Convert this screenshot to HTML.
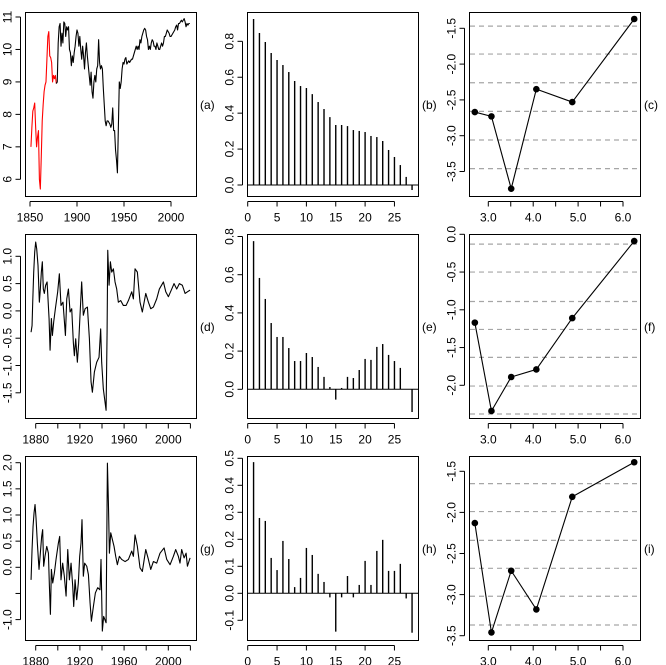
<!DOCTYPE html>
<html><head><meta charset="utf-8"><style>
html,body{margin:0;padding:0;background:#fff}
svg{display:block}
text{font-family:"Liberation Sans",Arial,sans-serif;font-size:12px;fill:#000}
</style></head><body>
<svg id="fig" width="666" height="665" viewBox="0 0 666 665" xmlns="http://www.w3.org/2000/svg"></svg>
<script>
// ---------- data ----------
const aStartYear = 1851;
const aRedEndIndex = 27; // last red point (1878)
const aValues = [7.0,7.6,8.1,8.2,8.35,7.6,7.0,7.3,7.5,6.0,
5.7,6.7,7.8,8.3,8.7,8.9,9.0,9.7,10.4,10.55,
9.8,9.75,9.6,9.0,9.2,9.1,9.2,8.95,
9.0,10.2,10.7,10.8,10.1,10.5,10.2,10.85,10.8,10.4,10.7,10.6,
10.7,10.0,9.9,9.5,9.8,9.6,9.9,10.1,10.4,10.6,
10.5,10.1,10.4,10.0,9.7,10.1,9.8,9.4,9.9,10.2,
9.8,9.5,9.2,8.9,9.3,8.7,8.5,9.0,9.2,9.0,
9.4,9.5,10.3,9.6,9.4,9.5,9.4,8.8,8.3,7.8,
7.65,7.8,7.8,7.75,7.7,7.6,7.7,8.2,7.5,7.5,
6.9,6.6,6.2,7.6,9.0,8.8,9.0,9.4,9.6,9.55,
9.7,9.75,9.55,9.6,9.65,9.6,9.65,9.7,9.7,9.8,
9.9,10.0,10.1,10.0,10.1,10.0,10.3,10.2,10.4,10.5,
10.6,10.65,10.6,10.4,10.3,10.0,10.1,10.0,10.2,10.3,
10.25,10.1,10.1,10.0,10.2,10.1,10.0,10.0,10.1,10.2,
10.1,10.2,10.4,10.4,10.5,10.6,10.55,10.5,10.4,10.4,
10.45,10.5,10.55,10.6,10.7,10.75,10.6,10.8,10.8,10.85,
10.9,10.85,10.9,10.95,10.85,10.7,10.8,10.75,10.8,10.8];

const dYears = [1875.8,1876.7,1877.3,1878.2,1879.1,1880,1880.9,1882.1,1883.3,1884.2,1885.1,1886,1886.9,1887.8,1889,1890.3,1892.1,1893,1894.2,1895.1,1896.3,1897.8,1899.9,1901.4,1902.9,1904.7,1906.9,1908.1,1909.6,1911.1,1912.6,1914.1,1915,1916.2,1917.7,1918.9,1920.1,1921.6,1923.1,1924.7,1926.8,1928.6,1930.1,1931.3,1933.1,1935.2,1937.3,1938.8,1939.7,1941.2,1943.7,1944.6,1945.2,1946.4,1947.6,1948.8,1950.3,1951.8,1953.3,1954.8,1956.9,1959.3,1961.8,1963.9,1966.9,1968.4,1969.9,1972,1974.4,1976.5,1979.6,1982,1984.1,1986.5,1989.5,1991.9,1995.6,1997.7,2000.1,2003.1,2005.2,2007.6,2010,2012.7,2015.2,2017.3,2019.7];
const dValues = [-0.39,-0.27,0.16,0.71,1.08,1.26,1.14,0.83,0.16,0.4,0.71,0.9,0.4,0.32,0.47,0.53,-0.14,-0.72,-0.14,-0.45,-0.2,0.04,0.35,0.68,0.1,0.16,-0.45,0.22,0.4,-0.02,0.04,-0.59,-0.82,-0.51,-0.94,-0.59,-0.08,0.53,-0.08,0.04,0.07,-0.51,-1.3,-1.49,-1.12,-0.94,-0.85,-0.33,-0.94,-1.43,-1.82,-0.39,1.11,0.47,0.9,0.71,0.77,0.53,0.4,0.16,0.19,0.1,0.1,0.19,0.35,0.22,0.77,0.71,0.16,-0.02,0.32,0.16,0.04,0.07,0.22,0.4,0.53,0.35,0.26,0.4,0.5,0.4,0.5,0.47,0.32,0.35,0.38];

const gYears = [1875.8,1876.7,1877.6,1878.5,1879.4,1880.3,1881.5,1883,1884.2,1885.4,1886.3,1887.2,1888.4,1890,1891.5,1892.4,1893.3,1894.2,1895.4,1896.9,1898.4,1900.5,1901.7,1902.9,1904.4,1905.9,1907.5,1909,1910.5,1912,1913.5,1914.4,1915.6,1917.1,1918.6,1919.8,1921,1921.9,1923.1,1924.3,1926.2,1927.7,1929.2,1930.4,1932.2,1934,1936.1,1938.2,1939.1,1940.3,1941.5,1943.7,1944.3,1944.9,1945.8,1946.7,1947.9,1949.4,1950.9,1952.4,1953.9,1955.7,1957.8,1960.9,1963.9,1966.9,1968.4,1969.9,1972,1974.4,1976.5,1979.6,1982,1984.1,1986.5,1989.5,1992.5,1996.2,1998.6,2001.6,2004.6,2006.7,2009.1,2010.6,2012.1,2014.3,2016.1,2017.3,2019.7];
const gValues = [-0.24,0.34,0.78,1.04,1.2,0.94,0.46,-0.04,0.27,0.59,0.72,0.02,0.21,0.4,0.27,-0.36,-0.9,-0.04,-0.3,-0.11,0.15,0.46,0.59,-0.24,0.08,-0.17,-0.55,0.34,-0.24,0.08,-0.36,-0.75,-0.24,-0.62,-0.3,0.21,0.46,0.91,-0.17,0.08,0.02,-0.14,-0.68,-1.03,-0.75,-0.49,-0.39,-0.43,0.15,-1.22,-0.94,-1.06,0.46,1.99,1.23,0.27,0.66,0.53,0.4,0.21,0.05,0.21,0.15,0.11,0.15,0.31,0.21,0.62,0.4,-0.01,-0.08,0.34,0.15,-0.04,0.11,0.08,0.27,0.37,0.15,0.05,0.21,0.34,0.21,0.08,0.34,0.18,0.27,0.02,0.18];

const bAcf = [0.924,0.846,0.796,0.735,0.696,0.668,0.629,0.579,0.551,0.540,0.506,0.462,0.423,0.378,0.334,0.334,0.328,0.306,0.301,0.295,0.273,0.267,0.245,0.195,0.156,0.111,0.045,-0.028];
const eAcf = [0.776,0.583,0.473,0.347,0.274,0.274,0.216,0.148,0.148,0.19,0.169,0.117,0.065,0.012,-0.054,0.007,0.065,0.059,0.101,0.159,0.154,0.222,0.237,0.18,0.148,0.112,0.0,-0.119];
const hAcf = [0.486,0.279,0.268,0.131,0.086,0.194,0.127,0.023,0.057,0.168,0.142,0.072,0.042,-0.015,-0.142,-0.015,0.064,-0.015,0.031,0.12,0.031,0.157,0.198,0.083,0.083,0.109,-0.019,-0.146];

const scaleX = [2.70,3.07,3.51,4.07,4.87,6.25];
const cY = [-2.67,-2.73,-3.74,-2.35,-2.53,-1.37];
const cGrid = [-1.47,-1.86,-2.26,-2.66,-3.06,-3.46];
const fY = [-1.17,-2.34,-1.89,-1.79,-1.11,-0.09];
const fGrid = [-0.13,-0.50,-0.89,-1.26,-1.63,-2.01,-2.38];
const iY = [-2.13,-3.46,-2.71,-3.18,-1.81,-1.39];
const iGrid = [-1.65,-1.99,-2.34,-2.68,-3.02,-3.37];

const aTicksY = [6,7,8,9,10,11];
const yearTicksA = [1850,1900,1950,2000];
const yearTicksD = [1880,1900,1920,1940,1960,1980,2000,2020];
const yearLabelsD = [1880,1920,1960,2000];
const dTicksY = [-1.5,-1.0,-0.5,0.0,0.5,1.0];
const gTicksY = [-1.0,-0.5,0.0,0.5,1.0,1.5,2.0];
const gLabelsY = [-1.0,0.0,0.5,1.0,1.5,2.0];
const lagTicks = [0,5,10,15,20,25];
const bTicksY = [0.0,0.2,0.4,0.6,0.8];
const hTicksY = [-0.1,0.0,0.1,0.2,0.3,0.4,0.5];
const scaleTicks = [3.0,3.5,4.0,4.5,5.0,5.5,6.0];
const scaleLabels = [3.0,4.0,5.0,6.0];
const cTicksY = [-3.5,-3.0,-2.5,-2.0,-1.5];
const fTicksY = [-2.0,-1.5,-1.0,-0.5,0.0];

// ---------- drawing ----------
const NS = "http://www.w3.org/2000/svg";
const svg = document.getElementById('fig');
function mk(tag, attrs, parent){
  const e = document.createElementNS(NS, tag);
  for (const k in attrs) e.setAttribute(k, attrs[k]);
  (parent||svg).appendChild(e);
  return e;
}
const COLS = [25,247,469], ROWS = [12,234,456], W = 171, H = 184;

function panel(ci, ri, letter){
  const g = mk('g', {});
  
  
  const x0 = COLS[ci], y0 = ROWS[ri];
  const box = mk('rect', {x:x0+0.5, y:y0+0.5, width:W, height:H, fill:'none', stroke:'#000', 'stroke-width':1}, g);
  
  
  const t = mk('text', {x:x0+W+4, y:y0+H/2+5, 'font-size':13}, g);
  t.textContent = '(' + letter + ')';
  
  
  return {g, x0, y0};
}
function xAxis(p, ticks, labels, fx, fmt, letter){
  const ax = mk('g', {}, p.g);
  
  
  const yb = p.y0 + H + 0.5;
  const xs = ticks.map(fx);
  mk('line', {x1:Math.min(...xs), x2:Math.max(...xs), y1:yb+5, y2:yb+5, stroke:'#000'}, ax);
  ticks.forEach(v => mk('line', {x1:fx(v), x2:fx(v), y1:yb+5, y2:yb+10, stroke:'#000'}, ax));
  labels.forEach(v => {
    const t = mk('text', {x:fx(v), y:yb+25, 'text-anchor':'middle'}, ax);
    t.textContent = fmt(v);
    
    
  });
}
function yAxis(p, ticks, labels, fy, fmt, letter){
  const ax = mk('g', {}, p.g);
  
  
  const xl = p.x0 + 0.5;
  const ys = ticks.map(fy);
  mk('line', {x1:xl-5, x2:xl-5, y1:Math.min(...ys), y2:Math.max(...ys), stroke:'#000'}, ax);
  ticks.forEach(v => mk('line', {x1:xl-10, x2:xl-5, y1:fy(v), y2:fy(v), stroke:'#000'}, ax));
  labels.forEach(v => {
    const cx = xl - 14, cy = fy(v);
    const t = mk('text', {x:cx, y:cy, 'text-anchor':'middle', transform:'rotate(-90 '+cx+' '+cy+')'}, ax);
    t.textContent = fmt(v);
    
    
  });
}
const f1 = v => v.toFixed(1), f0 = v => String(v);
function poly(p, xs, ys, color, name){
  const pts = xs.map((x,i)=>x.toFixed(2)+','+ys[i].toFixed(2)).join(' ');
  const l = mk('polyline', {points:pts, fill:'none', stroke:color, 'stroke-width':1.1, 'stroke-linejoin':'round'}, p.g);
  
  
}
function acf(p, vals, fx, fy, letter){
  mk('line', {x1:p.x0, x2:p.x0+W, y1:fy(0), y2:fy(0), stroke:'#000'}, p.g);
  vals.forEach((v,i) => {
    const l = mk('line', {x1:fx(i+1), x2:fx(i+1), y1:fy(0), y2:fy(v), stroke:'#000', 'stroke-width':1.4}, p.g);
    
    
  });
}
function scalePlot(p, xv, yv, grid, fx, fy, letter){
  grid.forEach(v => mk('line', {x1:p.x0+1, x2:p.x0+W, y1:fy(v), y2:fy(v), stroke:'#a6a6a6', 'stroke-width':1.2, 'stroke-dasharray':'5,4'}, p.g));
  poly(p, xv.map(fx), yv.map(fy), '#000', 'scale-line-' + letter);
  xv.forEach((x,i) => {
    const c = mk('circle', {cx:fx(x), cy:fy(yv[i]), r:3.3, fill:'#000'}, p.g);
    
    
  });
}

// (a)
{
  const p = panel(0,0,'a');
  const fx = yr => 30 + (yr-1850)*0.94, fy = v => 17 + (11-v)*32.46;
  const yrs = aValues.map((_,i)=>aStartYear+i);
  poly(p, yrs.slice(0,aRedEndIndex+1).map(fx), aValues.slice(0,aRedEndIndex+1).map(fy), '#ff0000', 'series-early-red');
  poly(p, yrs.slice(aRedEndIndex).map(fx), aValues.slice(aRedEndIndex).map(fy), '#000', 'series-main');
  xAxis(p, yearTicksA, yearTicksA, fx, f0, 'a');
  yAxis(p, aTicksY, aTicksY, fy, f0, 'a');
}
// (d)
{
  const p = panel(0,1,'d');
  const fx = yr => 35.7 + (yr-1880)*1.105, fy = v => 256.3 + (1.0-v)*54.6;
  poly(p, dYears.map(fx), dValues.map(fy), '#000', 'series-d');
  xAxis(p, yearTicksD, yearLabelsD, fx, f0, 'd');
  yAxis(p, dTicksY, dTicksY, fy, f1, 'd');
}
// (g)
{
  const p = panel(0,2,'g');
  const fx = yr => 35.7 + (yr-1880)*1.105, fy = v => 567.3 - v*52.3;
  poly(p, gYears.map(fx), gValues.map(fy), '#000', 'series-g');
  xAxis(p, yearTicksD, yearLabelsD, fx, f0, 'g');
  yAxis(p, gTicksY, gLabelsY, fy, f1, 'g');
}
// (b),(e),(h)
const lagX = lag => 247.7 + lag*5.87;
{
  const p = panel(1,0,'b'); const fy = v => 185 - v*179.6;
  acf(p, bAcf, lagX, fy, 'b'); xAxis(p, lagTicks, lagTicks, lagX, f0, 'b'); yAxis(p, bTicksY, bTicksY, fy, f1, 'b');
}
{
  const p = panel(1,1,'e'); const fy = v => 389.3 - v*191;
  acf(p, eAcf, lagX, fy, 'e'); xAxis(p, lagTicks, lagTicks, lagX, f0, 'e'); yAxis(p, bTicksY, bTicksY, fy, f1, 'e');
}
{
  const p = panel(1,2,'h'); const fy = v => 593.3 - v*270;
  acf(p, hAcf, lagX, fy, 'h'); xAxis(p, lagTicks, lagTicks, lagX, f0, 'h'); yAxis(p, hTicksY, hTicksY, fy, f1, 'h');
}
// (c),(f),(i)
const scX = v => 488.3 + (v-3)*44.9;
{
  const p = panel(2,0,'c'); const fy = v => 28.3 - (v+1.5)*71.6;
  scalePlot(p, scaleX, cY, cGrid, scX, fy, 'c'); xAxis(p, scaleTicks, scaleLabels, scX, f1, 'c'); yAxis(p, cTicksY, cTicksY, fy, f1, 'c');
}
{
  const p = panel(2,1,'f'); const fy = v => 234.3 - v*75.5;
  scalePlot(p, scaleX, fY, fGrid, scX, fy, 'f'); xAxis(p, scaleTicks, scaleLabels, scX, f1, 'f'); yAxis(p, fTicksY, fTicksY, fy, f1, 'f');
}
{
  const p = panel(2,2,'i'); const fy = v => 471.3 - (v+1.5)*82.2;
  scalePlot(p, scaleX, iY, iGrid, scX, fy, 'i'); xAxis(p, scaleTicks, scaleLabels, scX, f1, 'i'); yAxis(p, cTicksY, cTicksY, fy, f1, 'i');
}
</script>
</body></html>
